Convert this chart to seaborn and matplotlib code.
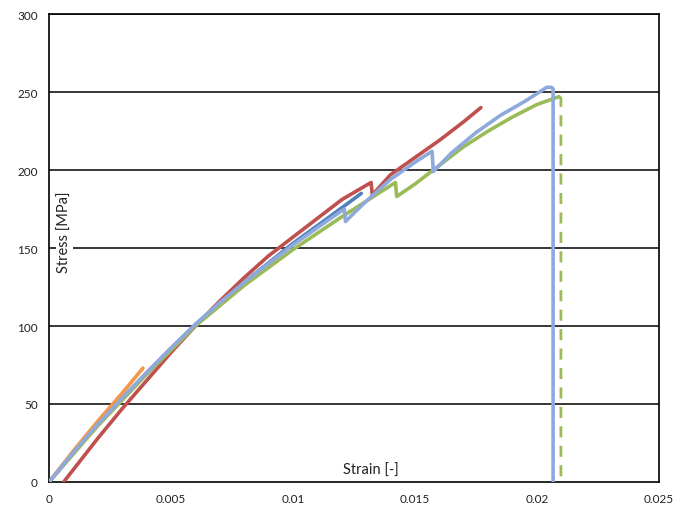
import matplotlib
matplotlib.use("Agg")
import matplotlib.pyplot as plt
import seaborn as sns
import pandas as pd

# ---- data ----
orange_strain = [0, 0.001, 0.002, 0.003, 0.00385]
orange_stress = [0, 20, 39, 57, 73]

darkblue_strain = [0, 0.002, 0.004, 0.006, 0.008, 0.010, 0.0115, 0.0128]
darkblue_stress = [0, 37, 70, 101, 128, 153, 170, 185]

red_strain = [0.0006, 0.002, 0.003, 0.004, 0.005, 0.006, 0.007, 0.008, 0.009, 0.010,
              0.011, 0.012, 0.0132, 0.01325, 0.014, 0.015, 0.016, 0.017, 0.0177]
red_stress = [0, 28, 47, 65, 83, 100, 116, 131, 145, 157,
              169, 181, 192, 184, 197, 208, 219, 231, 240]

green_strain = [0, 0.002, 0.004, 0.006, 0.008, 0.010, 0.012, 0.0142, 0.01425,
                0.015, 0.016, 0.017, 0.018, 0.019, 0.020, 0.0209]
green_stress = [0, 36, 69, 100, 126, 149, 170, 192, 183,
                191, 203, 215, 225, 234, 242, 247]

green_drop_strain = [0.0209, 0.02098, 0.02098]
green_drop_stress = [247, 246, 0]

blue_strain = [0, 0.001, 0.002, 0.003, 0.004, 0.005, 0.006, 0.007, 0.008, 0.009,
               0.010, 0.011, 0.0121, 0.01215, 0.013, 0.014, 0.015, 0.0157, 0.01575,
               0.0165, 0.0175, 0.0185, 0.0195, 0.0202, 0.0204, 0.0206, 0.02066, 0.02066]
blue_stress = [0, 19, 37, 54, 70, 86, 101, 115, 128, 140,
               152, 163, 175, 167, 180, 194, 205, 212, 199,
               211, 224, 235, 244, 251, 253, 253, 252, 0]

x_ticks = [0, 0.005, 0.01, 0.015, 0.02, 0.025]
x_ticklabels = ["0", "0.005", "0.01", "0.015", "0.02", "0.025"]
y_ticks = [0, 50, 100, 150, 200, 250, 300]

sns.set_style("white")
plt.rcParams["font.family"] = ["Lato", "DejaVu Sans"]

fig = plt.figure(figsize=(6.77, 5.10), dpi=100)
ax = fig.add_axes([49 / 677, 27 / 510, 610 / 677, 468 / 510])

for yv in y_ticks[1:]:
    ax.axhline(yv, color="black", lw=1.1, zorder=1)

lw = 2.6
def draw(xs, ys, color, **kw):
    df = pd.DataFrame({"x": xs, "y": ys})
    sns.lineplot(data=df, x="x", y="y", sort=False, estimator=None, color=color,
                 lw=kw.pop("lw", lw), ax=ax, zorder=kw.pop("zorder", 3), **kw)

draw(darkblue_strain, darkblue_stress, "#4F81BD", zorder=2)
draw(red_strain, red_stress, "#C0504D")
draw(green_strain, green_stress, "#9BBB59")
draw(green_drop_strain, green_drop_stress, "#9BBB59", lw=2.0, dashes=(4, 3))
draw(orange_strain, orange_stress, "#F79646")
draw(blue_strain, blue_stress, "#8EA9DB", zorder=4)

ax.set_xlim(0, 0.025)
ax.set_ylim(0, 300)
ax.set_xticks(x_ticks)
ax.set_xticklabels(x_ticklabels)
ax.set_yticks(y_ticks)
ax.tick_params(axis="both", length=0, labelsize=8.5, pad=8, colors="#222222")
for s in ax.spines.values():
    s.set_visible(True)
    s.set_color("black")
    s.set_linewidth(1.2)
ax.set_xlabel("")
ax.set_ylabel("")

bbox = dict(facecolor="white", edgecolor="none", pad=1)
ax.text(0.00065, 161, "Stress [MPa]", rotation=90, ha="center", va="center",
        fontsize=10.5, color="#222222", bbox=bbox, zorder=5)
ax.text(0.0132, 8, "Strain [-]", ha="center", va="center",
        fontsize=10.5, color="#222222", bbox=bbox, zorder=5)

fig.savefig("out.png", dpi=100, facecolor="white")
